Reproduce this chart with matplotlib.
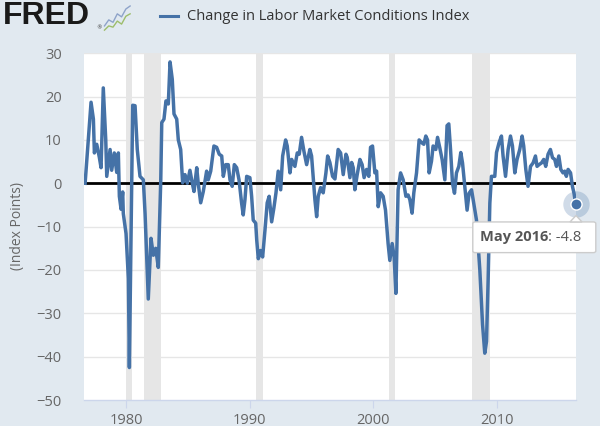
import matplotlib.pyplot as plt
from matplotlib.patches import FancyBboxPatch, Polygon
from matplotlib.text import Annotation

# Change in Labor Market Conditions Index
dates = [1976.69, 1977.17, 1977.36, 1977.44, 1977.63, 1977.84, 1977.98, 1978.16, 1978.36, 1978.44,
         1978.71, 1978.84, 1979.05, 1979.25, 1979.38, 1979.46, 1979.60, 1979.73, 1979.78, 1980.00,
         1980.19, 1980.27, 1980.54, 1980.73, 1980.91, 1981.13, 1981.40, 1981.54, 1981.80, 1982.02,
         1982.21, 1982.40, 1982.61, 1982.81, 1982.89, 1983.07, 1983.23, 1983.42, 1983.56, 1983.74,
         1983.88, 1984.10, 1984.23, 1984.42, 1984.58, 1984.77, 1984.96, 1985.17, 1985.36, 1985.50,
         1985.72, 1985.84, 1986.04, 1986.25, 1986.52, 1986.65, 1986.85, 1987.11, 1987.33, 1987.54,
         1987.74, 1987.87, 1988.06, 1988.27, 1988.41, 1988.59, 1988.76, 1988.95, 1989.14, 1989.35,
         1989.48, 1989.62, 1989.76, 1990.02, 1990.16, 1990.29, 1990.49, 1990.57, 1990.70, 1990.89,
         1991.05, 1991.24, 1991.42, 1991.58, 1991.78, 1991.96, 1992.13, 1992.31, 1992.51, 1992.67,
         1992.91, 1993.04, 1993.26, 1993.40, 1993.66, 1993.85, 1994.01, 1994.20, 1994.39, 1994.61,
         1994.87, 1995.01, 1995.28, 1995.42, 1995.55, 1995.74, 1995.95, 1996.17, 1996.31, 1996.49,
         1996.71, 1996.90, 1997.16, 1997.36, 1997.57, 1997.79, 1997.89, 1998.11, 1998.25, 1998.38,
         1998.51, 1998.70, 1998.92, 1999.10, 1999.26, 1999.46, 1999.64, 1999.78, 1999.94, 2000.13,
         2000.27, 2000.40, 2000.59, 2000.80, 2000.99, 2001.20, 2001.34, 2001.53, 2001.69, 2001.83,
         2002.01, 2002.21, 2002.42, 2002.64, 2002.82, 2002.96, 2003.14, 2003.28, 2003.50, 2003.71,
         2003.90, 2004.09, 2004.25, 2004.39, 2004.52, 2004.71, 2004.84, 2005.06, 2005.20, 2005.38,
         2005.57, 2005.79, 2005.97, 2006.11, 2006.25, 2006.41, 2006.57, 2006.73, 2006.92, 2007.08,
         2007.22, 2007.41, 2007.59, 2007.75, 2007.95, 2008.13, 2008.35, 2008.62, 2008.84, 2009.02,
         2009.16, 2009.29, 2009.43, 2009.56, 2009.83, 2009.97, 2010.18, 2010.37, 2010.50, 2010.70,
         2010.91, 2011.10, 2011.26, 2011.45, 2011.63, 2011.85, 2012.04, 2012.17, 2012.34, 2012.52,
         2012.72, 2012.93, 2013.12, 2013.25, 2013.41, 2013.61, 2013.79, 2013.95, 2014.14, 2014.33,
         2014.50, 2014.68, 2014.82, 2015.01, 2015.17, 2015.35, 2015.49, 2015.62, 2015.76, 2015.96,
         2016.11, 2016.24, 2016.37]
values = [0.0, 18.7, 14.8, 7.0, 9.0, 6.0, 3.6, 22.0, 10.0, 1.6,
          7.8, 3.0, 7.0, 2.5, 7.0, -3.0, -6.0, -2.0, -7.0, -11.6,
          -22.0, -42.5, 18.0, 17.9, 7.8, 1.6, 0.8, -7.0, -26.7, -12.7,
          -16.6, -15.0, -19.4, 0.8, 14.0, 14.8, 19.0, 18.3, 28.0, 24.0,
          16.0, 14.8, 10.0, 7.8, 0.1, 2.0, 0.0, 3.0, 0.0, -1.9,
          3.6, 0.0, -4.5, -1.9, 2.8, 0.8, 2.8, 8.6, 8.3, 6.7,
          6.3, 1.6, 4.3, 4.3, 0.8, -0.7, 4.3, 3.6, 0.8, -4.6,
          -7.3, -3.8, 1.6, 1.3, -3.0, -8.5, -9.2, -13.0, -17.4, -15.5,
          -17.0, -10.8, -4.5, -3.0, -8.9, -5.7, -2.2, 2.8, -1.5, 6.3,
          10.0, 8.6, 2.4, 5.5, 3.9, 7.0, 6.7, 10.6, 7.4, 4.3,
          7.8, 6.3, -3.8, -7.7, -3.0, -1.0, -2.2, 2.4, 6.3, 4.8,
          1.6, 1.0, 7.8, 7.0, 2.0, 6.7, 6.0, 1.3, 4.8, 3.6,
          -1.5, 2.0, 5.5, 4.3, 1.3, 3.2, 1.6, 8.3, 8.6, 2.4,
          2.8, -5.4, -2.2, -3.0, -6.2, -13.9, -17.8, -13.9, -17.0, -25.4,
          -1.5, 2.4, 0.8, -3.0, -2.7, -3.8, -6.9, -2.2, 2.4, 10.0,
          9.4, 9.0, 10.9, 10.0, 2.4, 5.1, 8.6, 7.8, 10.6, 8.2,
          5.5, 0.8, 13.3, 13.7, 7.8, 0.0, -2.3, 2.4, 3.9, 7.1,
          4.7, -1.0, -6.2, -2.3, -1.5, -4.6, -8.5, -20.0, -32.6, -39.2,
          -36.5, -22.5, -4.6, 1.6, 1.6, 7.1, 9.4, 10.9, 6.3, 1.6,
          7.8, 10.9, 8.6, 2.4, 5.5, 7.8, 10.9, 8.6, 3.2, -0.7,
          3.9, 4.7, 6.3, 3.9, 4.3, 4.7, 5.5, 3.9, 6.7, 7.8,
          5.9, 5.5, 3.9, 6.3, 3.2, 2.4, 2.8, 1.6, 3.2, 2.4,
          -0.7, -2.3, -4.8]

recession_start = [1980.00, 1981.42, 1990.55, 2001.25, 2007.95]
recession_end = [1980.50, 1982.83, 1991.05, 2001.75, 2009.45]

yticks = [-50, -40, -30, -20, -10, 0, 10, 20, 30]
xticks = [1980, 1990, 2000, 2010]

bg = '#e1e9f0'
blue = '#4572a7'
grey_txt = '#666666'

fig = plt.figure(figsize=(6, 4.26), dpi=100, facecolor=bg)
ax = fig.add_axes([0.14, 0.061, 0.82, 0.814], facecolor='white')

for s, e in zip(recession_start, recession_end):
    ax.axvspan(s, e, color='#e6e6e6', lw=0, zorder=1)

for t in yticks[1:]:
    ax.axhline(t, color='#e6e6e6', lw=1, zorder=0.5)

ax.axhline(0, color='black', lw=2, zorder=2)
ax.plot(dates, values, color=blue, lw=2.5, zorder=3, solid_joinstyle='round')

# hover marker on last point
ax.plot(dates[-1], values[-1], 'o', ms=19, color=blue, alpha=0.25, mec='none', zorder=4, clip_on=False)
ax.plot(dates[-1], values[-1], 'o', ms=8, color=blue, mec='white', mew=1, zorder=5, clip_on=False)

ax.set_xlim(1976.6, 2016.4)
ax.set_ylim(-50, 30)
ax.set_yticks(yticks)
ax.set_xticks(xticks)
ax.set_xticklabels([str(x) for x in xticks])

for side in ['top', 'right', 'left']:
    ax.spines[side].set_visible(False)
ax.spines['bottom'].set_color('#ccd6eb')
ax.spines['bottom'].set_linewidth(1)
ax.tick_params(axis='y', length=0, pad=16, labelsize=10.5, labelcolor=grey_txt)
ax.tick_params(axis='x', length=6, color='#ccd6eb', pad=3, labelsize=10.5, labelcolor=grey_txt)
for lab in ax.get_xticklabels() + ax.get_yticklabels():
    lab.set_fontfamily('Open Sans')

fig.text(0.03, 0.47, '(Index Points)', rotation=90, ha='center', va='center',
         fontsize=10, color=grey_txt, family='Open Sans')

# tooltip
tip = FancyBboxPatch((0.788, 0.407), 0.205, 0.072, boxstyle='round,pad=0,rounding_size=0.004',
                     transform=fig.transFigure, facecolor='white', edgecolor='#cccccc', lw=1, zorder=10)
fig.patches.append(tip)
arrow = Polygon([[0.950, 0.479], [0.960, 0.494], [0.970, 0.479]], closed=True,
                transform=fig.transFigure, facecolor='white', edgecolor='#cccccc', lw=1, zorder=11)
fig.patches.append(arrow)
t1 = fig.text(0.800, 0.443, 'May 2016', fontsize=10.5, fontweight='bold', color='#555555',
              family='Open Sans', va='center', zorder=12)
t2 = Annotation(': -4.8', xy=(1, 0.5), xycoords=t1, va='center', ha='left', fontsize=10.5,
                color='#555555', family='Open Sans', annotation_clip=False)
t2.set_zorder(12)
fig.add_artist(t2)

# header: FRED logo and legend
fig.text(0.005, 0.962, 'FRED', fontsize=23, fontweight='bold', color='#1a1a1a',
         family='Liberation Sans', va='center')
fig.text(0.160, 0.935, '®', fontsize=4, color='#333333', va='center')
icon = fig.add_axes([0.172, 0.925, 0.047, 0.068], facecolor='#d9dfe5')
icon.plot([0, 1, 2, 3, 4, 5, 6], [1, 2, 1.6, 3, 2.5, 3.8, 4.3], color='#8ea3c9', lw=1)
icon.plot([0, 1, 2, 3, 4, 5, 6], [0.3, 1.0, 0.8, 1.8, 1.3, 2.6, 3.0], color='#9dbd6b', lw=1)
icon.set_xlim(-0.3, 6.3)
icon.set_ylim(0, 4.8)
icon.axis('off')

fig.add_artist(plt.Line2D([0.267, 0.297], [0.962, 0.962], transform=fig.transFigure,
                          color=blue, lw=2.2))
fig.text(0.311, 0.962, 'Change in Labor Market Conditions Index', fontsize=10.5, color='#333333',
         family='Open Sans', va='center')

fig.savefig('out.png', dpi=100, facecolor=bg)
